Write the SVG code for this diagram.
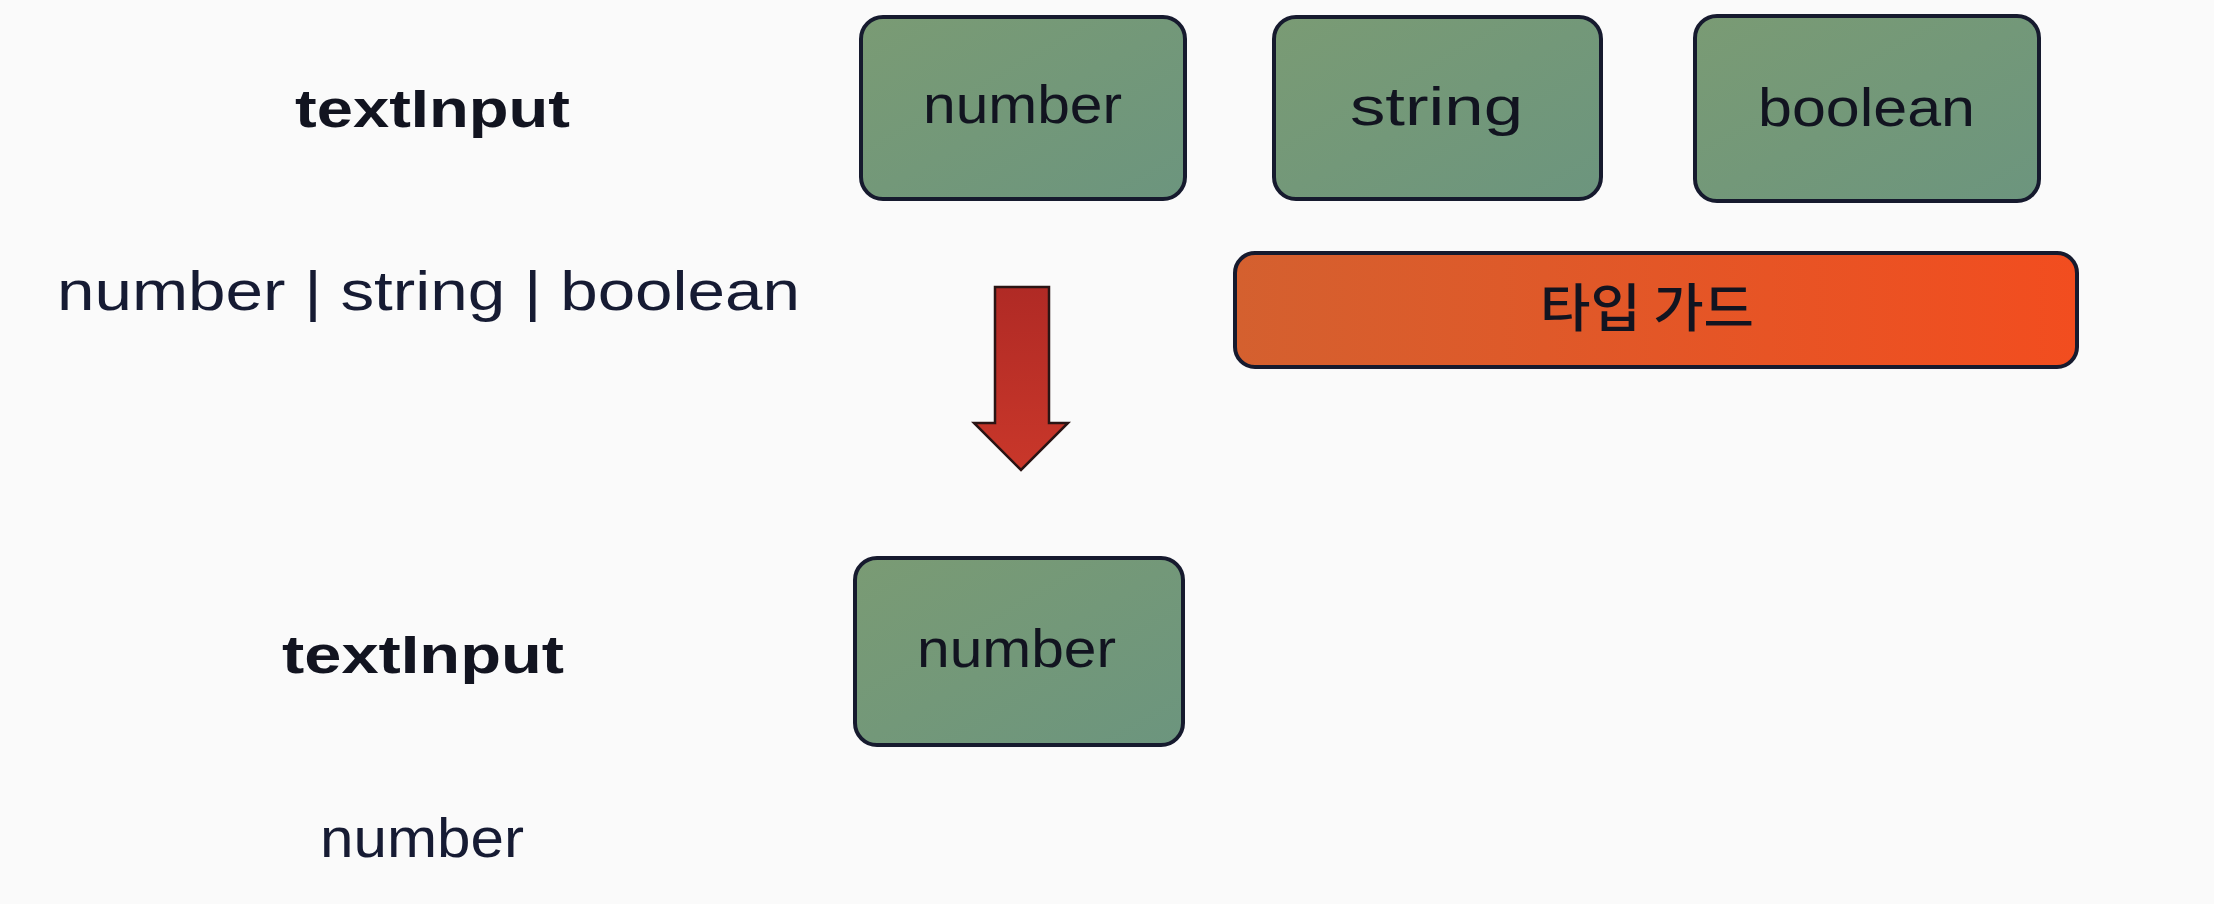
<svg xmlns="http://www.w3.org/2000/svg" width="2214" height="904" viewBox="0 0 2214 904">
  <defs>
    <linearGradient id="gGreen" x1="0" y1="0" x2="1" y2="1">
      <stop offset="0" stop-color="#7a9b74"/>
      <stop offset="1" stop-color="#6c957e"/>
    </linearGradient>
    <linearGradient id="gRed" x1="0" y1="0" x2="1" y2="0">
      <stop offset="0" stop-color="#d4602f"/>
      <stop offset="1" stop-color="#f24d1f"/>
    </linearGradient>
    <linearGradient id="gArrow" x1="0" y1="0" x2="0" y2="1">
      <stop offset="0" stop-color="#b02a25"/>
      <stop offset="1" stop-color="#c9372a"/>
    </linearGradient>
    <style>
      .box { fill: url(#gGreen); stroke: #161a2e; stroke-width: 4; }
      .guard { fill: url(#gRed); stroke: #161a2e; stroke-width: 4; }
      .lbl { font-family: "Liberation Sans", "Noto Sans", sans-serif; font-size: 54px; fill: #121420; }
      .bold { font-weight: bold; }
      .kr { font-family: "Noto Sans CJK KR", sans-serif; font-size: 52px; font-weight: 500; fill: #121420; }
      .plain { font-family: "Liberation Sans", "Noto Sans", sans-serif; font-size: 56px; fill: #161b33; }
    </style>
  </defs>
  <rect width="2214" height="904" fill="#fafafa"/>

  <g id="label-textInput-top">
    <text class="lbl bold" x="295" y="127" textLength="275" lengthAdjust="spacingAndGlyphs">textInput</text>
  </g>
  <g id="label-union">
    <text class="plain" x="57" y="310" textLength="743" lengthAdjust="spacingAndGlyphs">number | string | boolean</text>
  </g>

  <g id="node-number-top">
    <rect class="box" x="861" y="17" width="324" height="182" rx="22"/>
    <text class="lbl" x="923" y="123" textLength="199" lengthAdjust="spacingAndGlyphs">number</text>
  </g>
  <g id="node-string">
    <rect class="box" x="1274" y="17" width="327" height="182" rx="22"/>
    <text class="lbl" x="1350" y="125" textLength="173" lengthAdjust="spacingAndGlyphs">string</text>
  </g>
  <g id="node-boolean">
    <rect class="box" x="1695" y="16" width="344" height="185" rx="22"/>
    <text class="lbl" x="1758" y="126" textLength="217" lengthAdjust="spacingAndGlyphs">boolean</text>
  </g>

  <g id="node-typeguard">
    <rect class="guard" x="1235" y="253" width="842" height="114" rx="20"/>
    <text class="kr" x="1540" y="327" textLength="214" lengthAdjust="spacingAndGlyphs">타입 가드</text>
  </g>

  <g id="connectors">
    <polygon points="995,287 1049,287 1049,423 1068,423 1021,470 974,423 995,423" fill="url(#gArrow)" stroke="#2a1414" stroke-width="2.5" stroke-linejoin="miter"/>
  </g>

  <g id="label-textInput-bottom">
    <text class="lbl bold" x="282" y="673" textLength="282" lengthAdjust="spacingAndGlyphs">textInput</text>
  </g>
  <g id="node-number-bottom">
    <rect class="box" x="855" y="558" width="328" height="187" rx="22"/>
    <text class="lbl" x="917" y="667" textLength="199" lengthAdjust="spacingAndGlyphs">number</text>
  </g>
  <g id="label-number-bottom">
    <text class="plain" x="320" y="857" textLength="204" lengthAdjust="spacingAndGlyphs">number</text>
  </g>
</svg>
